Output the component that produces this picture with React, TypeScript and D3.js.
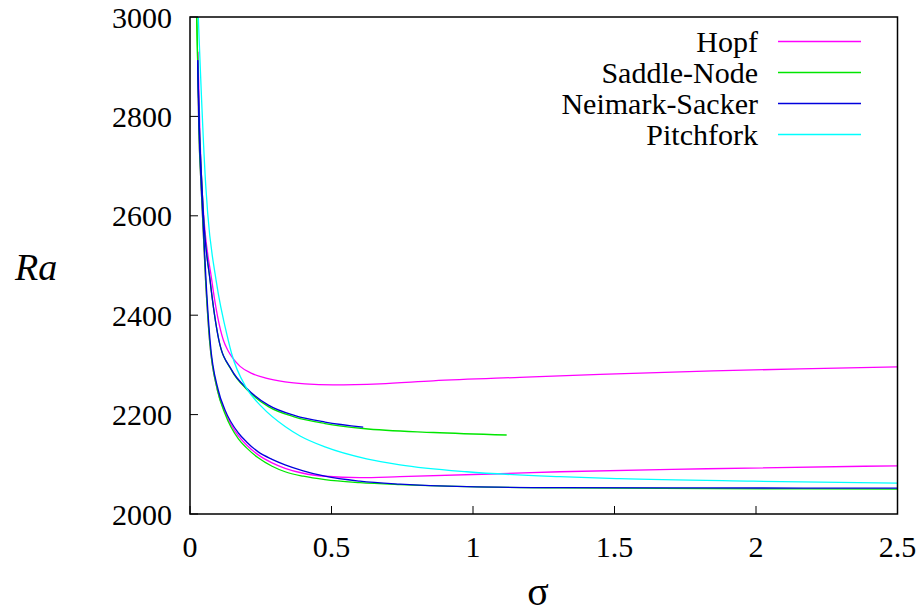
import React from "react";
import * as d3 from "d3";

// Bifurcation curves in the (sigma, Ra) plane
type Pt = [number, number];

const hopfUpper: Pt[] = [
  [0.028, 2930], [0.035, 2769], [0.044, 2640], [0.0767, 2471], [0.1177, 2350],
  [0.135, 2328], [0.148, 2316], [0.177, 2297], [0.218, 2283], [0.265, 2274],
  [0.336, 2266], [0.406, 2262], [0.505, 2260], [0.671, 2262], [0.859, 2268],
  [1.166, 2275], [1.449, 2281], [1.848, 2288], [2.155, 2292], [2.5, 2296],
];
const hopfLower: Pt[] = [
  [0.027, 2900], [0.031, 2780], [0.039, 2662], [0.055, 2471], [0.069, 2350],
  [0.097, 2249], [0.124, 2205], [0.171, 2157], [0.2, 2139], [0.241, 2119],
  [0.29, 2103], [0.336, 2092], [0.4, 2082], [0.477, 2076], [0.6, 2073],
  [0.742, 2075], [1.095, 2081], [1.307, 2085], [1.826, 2091], [2.5, 2097],
];
const saddleUpper: Pt[] = [
  [0.0237, 3000], [0.027, 2913], [0.033, 2780], [0.042, 2662], [0.047, 2605],
  [0.0707, 2471], [0.102, 2350], [0.147, 2289], [0.2, 2251], [0.277, 2216],
  [0.371, 2195], [0.477, 2182], [0.612, 2172], [0.86, 2164], [1.119, 2159],
];
const saddleLower: Pt[] = [
  [0.0237, 3000], [0.027, 2913], [0.031, 2780], [0.039, 2662], [0.055, 2471],
  [0.069, 2350], [0.097, 2249], [0.124, 2201], [0.171, 2151], [0.2, 2133],
  [0.241, 2113], [0.29, 2096], [0.336, 2085], [0.4, 2076], [0.477, 2069],
  [0.6, 2063], [0.742, 2059], [0.978, 2055], [1.307, 2052.5], [2.5, 2050],
];
const neimarkUpper: Pt[] = [
  [0.027, 2913], [0.033, 2780], [0.042, 2662], [0.047, 2605], [0.0707, 2471],
  [0.102, 2350], [0.147, 2290], [0.2, 2253], [0.277, 2219], [0.371, 2198],
  [0.477, 2185], [0.612, 2175],
];
const neimarkLower: Pt[] = [
  [0.027, 2913], [0.032, 2780], [0.04, 2662], [0.045, 2605], [0.0565, 2471],
  [0.0707, 2350], [0.1, 2249], [0.124, 2209], [0.171, 2163], [0.2, 2145],
  [0.241, 2125], [0.29, 2110], [0.336, 2099], [0.4, 2087], [0.477, 2076],
  [0.6, 2066], [0.742, 2060], [0.978, 2055], [1.307, 2053], [1.826, 2052.5],
  [2.5, 2052],
];
const pitchfork: Pt[] = [
  [0.0293, 3000], [0.0555, 2662], [0.0625, 2605], [0.092, 2471], [0.135, 2350],
  [0.147, 2323], [0.2, 2253], [0.253, 2216], [0.336, 2176], [0.389, 2157],
  [0.477, 2135], [0.624, 2111], [0.742, 2099], [0.978, 2085], [1.307, 2075],
  [1.519, 2071], [1.99, 2066], [2.5, 2062],
];

const seriesNames = ["Hopf", "Saddle-Node", "Neimark-Sacker", "Pitchfork"];
const seriesColors = ["#ff00ff", "#00e600", "#0000dd", "#00ffff"];
const seriesCurves: Pt[][][] = [
  [hopfUpper, hopfLower],
  [saddleUpper, saddleLower],
  [neimarkUpper, neimarkLower],
  [pitchfork],
];

const xTicks = [0, 0.5, 1, 1.5, 2, 2.5];
const xTickLabels = ["0", "0.5", "1", "1.5", "2", "2.5"];
const yTicks = [2000, 2200, 2400, 2600, 2800, 3000];

const W = 924;
const H = 613;
const left = 190;
const right = 897.5;
const top = 17;
const bottom = 514;
const serif = '"Liberation Serif", "DejaVu Serif", "Times New Roman", Times, serif';

export default function App() {
  const x = d3.scaleLinear().domain([0, 2.5]).range([left, right]);
  const y = d3.scaleLinear().domain([2000, 3000]).range([bottom, top]);
  const line = d3
    .line<Pt>()
    .x((d) => x(d[0]))
    .y((d) => y(d[1]))
    .curve(d3.curveMonotoneX);

  const textStyle: React.CSSProperties = { fontFamily: serif };

  return (
    <svg
      width={W}
      height={H}
      style={{ position: "absolute", left: 0, top: 0, background: "#fff", fontFamily: serif }}
    >
      <defs>
        <clipPath id="plotArea">
          <rect x={left} y={top} width={right - left} height={bottom - top} />
        </clipPath>
      </defs>

      <g clipPath="url(#plotArea)">
        {seriesCurves.map((curves, i) =>
          curves.map((c, j) => (
            <path
              key={`${i}-${j}`}
              d={line(c) || ""}
              fill="none"
              stroke={seriesColors[i]}
              strokeWidth={1.3}
            />
          ))
        )}
      </g>

      {/* ticks */}
      {yTicks.map((t) => (
        <g key={`y${t}`}>
          <line x1={left} x2={left + 8} y1={y(t)} y2={y(t)} stroke="#000" strokeWidth={1} />
          <text
            x={172}
            y={y(t)}
            dy="0.35em"
            textAnchor="end"
            fontSize={30}
            fill="#000"
            style={textStyle}
          >
            {t}
          </text>
        </g>
      ))}
      {xTicks.map((t, i) => (
        <g key={`x${t}`}>
          <line x1={x(t)} x2={x(t)} y1={bottom} y2={bottom - 8} stroke="#000" strokeWidth={1} />
          <text x={x(t)} y={557} textAnchor="middle" fontSize={30} fill="#000" style={textStyle}>
            {xTickLabels[i]}
          </text>
        </g>
      ))}

      {/* frame */}
      <rect
        x={left}
        y={top}
        width={right - left}
        height={bottom - top}
        fill="none"
        stroke="#000"
        strokeWidth={1.5}
      />

      {/* legend */}
      {seriesNames.map((name, i) => {
        const ly = 41.5 + i * 31;
        return (
          <g key={name}>
            <text
              x={758}
              y={ly}
              dy="0.35em"
              textAnchor="end"
              fontSize={30}
              fill="#000"
              style={textStyle}
            >
              {name}
            </text>
            <line x1={778} x2={861} y1={ly} y2={ly} stroke={seriesColors[i]} strokeWidth={1.3} />
          </g>
        );
      })}

      {/* axis titles */}
      <text x={15} y={280} fontSize={38} fontStyle="italic" fill="#000" style={textStyle}>
        Ra
      </text>
      <text x={538} y={605} textAnchor="middle" fontSize={40} fill="#000" style={textStyle}>
        σ
      </text>
    </svg>
  );
}
